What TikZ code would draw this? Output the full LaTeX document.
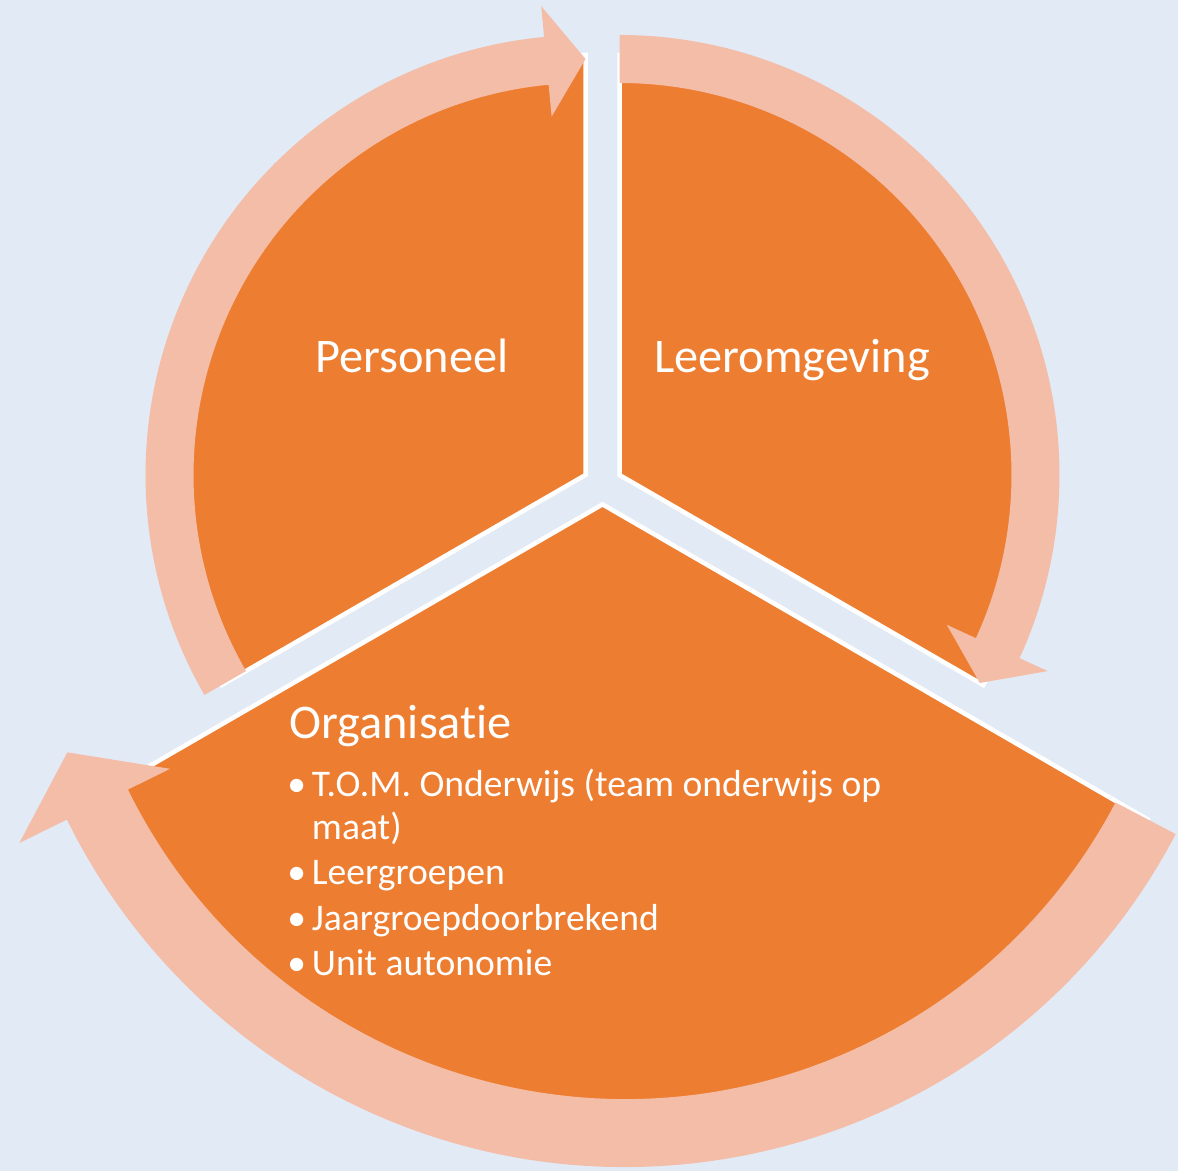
\documentclass[tikz,border=0pt]{standalone}
\usepackage{fontspec}
\setmainfont{Carlito}[Ligatures=NoCommon]
\usetikzlibrary{calc}
\definecolor{achtergrond}{RGB}{226,234,246}
\definecolor{segoranje}{RGB}{237,125,49}
\definecolor{pijlzalm}{RGB}{244,189,168}
\begin{document}
\begin{tikzpicture}[x=0.2mm, y=0.2mm,
	segment/.style={fill=segoranje, draw=white, line width=0.9mm, line join=miter},
	pijl/.style={fill=pijlzalm},
	kop/.style={text=white, inner sep=0pt, font=\fontsize{27.5}{32}\selectfont},
	lijst/.style={text=white, inner sep=0pt, font=\fontsize{21.4}{24}\selectfont}]
			\fill[achtergrond] (0,0) rectangle (1178,1171);
			\useasboundingbox (0,0) rectangle (1178,1171);
			\coordinate (L) at (585.5,696);
			\coordinate (R) at (619.5,696);
			\coordinate (B) at (602.5,666.6);
			\coordinate (C) at (625,626);
			\draw[segment] (L) -- ($(L)+(90:420)$) arc[start angle=90, end angle=210, radius=420] -- cycle;
			\draw[segment] (R) -- ($(R)+(-30:420)$) arc[start angle=-30, end angle=90, radius=420] -- cycle;
			\draw[segment] (B) -- ($(C)+(-27.7:590)$) arc[start angle=-27.7, end angle=-154.5, radius=590] -- cycle;
			\fill[pijl] ($(L)+(210:440)$) arc[start angle=210, end angle=95.4, radius=440]
				-- ($(L)+(95.4:471)$) -- ($(L)+(90:416)$) -- ($(L)+(95.4:360)$)
				-- ($(L)+(95.4:392)$) arc[start angle=95.4, end angle=210, radius=392] -- cycle;
			\fill[pijl] ($(R)+(90:440)$) arc[start angle=90, end angle=-24.6, radius=440]
				-- ($(R)+(-24.6:471)$) -- ($(R)+(-30:416)$) -- ($(R)+(-24.6:360)$)
				-- ($(R)+(-24.6:392)$) arc[start angle=-24.6, end angle=90, radius=392] -- cycle;
			\fill[pijl] ($(C)+(-27.7:622)$) arc[start angle=-27.7, end angle=-153.8, radius=622]
				-- ($(C)+(-153.8:675)$) -- ($(C)+(-159.6:595)$) -- ($(C)+(-153.8:507)$)
				-- ($(C)+(-153.8:554)$) arc[start angle=-153.8, end angle=-27.7, radius=554] -- cycle;
			\node[kop, anchor=base] (personeel) at (412,798) {Personeel};
			\node[kop, anchor=base] (leeromgeving) at (792,798) {Leeromgeving};
			\node[kop, anchor=base west] (organisatie) at (289,432) {Organisatie};
			\node[lijst, anchor=base west] (punten) at (287,374) {\begin{tabular}[t]{@{}l@{}l@{}}
				\makebox[14pt][l]{\textbullet} & T.O.M. Onderwijs (team onderwijs op\\
				 & maat)\\[1.9pt]
				\makebox[14pt][l]{\textbullet} & Leergroepen\\[1.9pt]
				\makebox[14pt][l]{\textbullet} & Jaargroepdoorbrekend\\[1.9pt]
				\makebox[14pt][l]{\textbullet} & Unit autonomie
			\end{tabular}};
\end{tikzpicture}
\end{document}
